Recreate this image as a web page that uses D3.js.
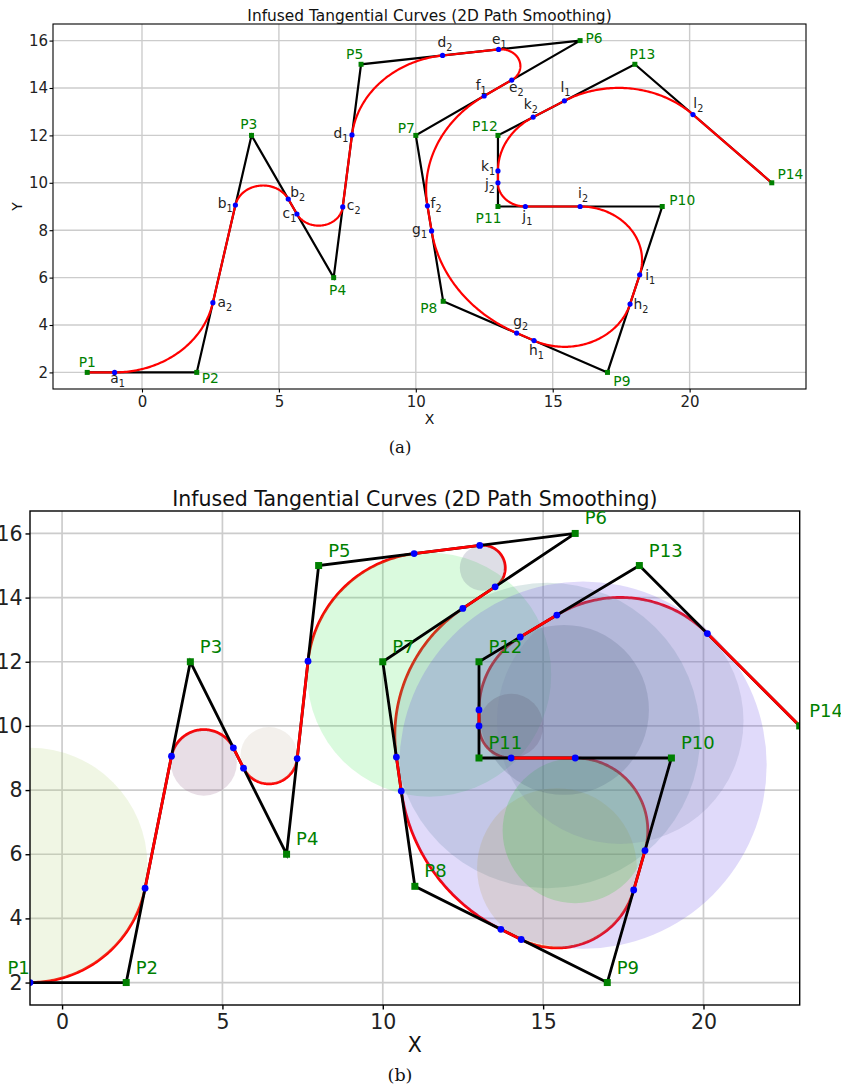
<!DOCTYPE html>
<html>
<head>
<meta charset="utf-8">
<script src="https://cdn.jsdelivr.net/npm/d3@7"></script>
<style>
  body { margin: 0; background: #fff; }
  text { font-family: "DejaVu Sans", sans-serif; }
</style>
</head>
<body>
<div id="chart"></div>
<script>
// control points of the path
var ptNames = ["P1","P2","P3","P4","P5","P6","P7","P8","P9","P10","P11","P12","P13","P14"];
var ptX = [-2, 2, 4, 7, 8, 16, 10, 11, 17, 19, 13, 13, 18, 23];
var ptY = [2, 2, 12, 6, 15, 16, 12, 5, 2, 9, 9, 12, 15, 10];

// tangent distance from each inner corner (P2..P13) to its two tangent points
var tanDist = [3, 3, 3, 3, 3, 3, 3, 3, 3, 1, 1.5, 3];
var tanLetters = ["a","b","c","d","e","f","g","h","i","j","k","l"];

// fill colour of each corner circle in panel (b)
var circleColors = ["#b4d278", "#8c5a82", "#c3b4a0", "#46e65a", "#5a5a82", "#4f8a8a",
                    "#6446e6", "#b49b4b", "#1ec81e", "#5a3c50", "#3a5070", "#7882aa"];

var xTicks = [0, 5, 10, 15, 20];
var yTicks = [2, 4, 6, 8, 10, 12, 14, 16];

// label placement (pixel offsets of label centre from the point)
var labelOffA = [[0,-10.5],[13.5,6],[-2.7,-11],[4,12.5],[-6.4,-10],[14,-2.7],[-9.6,-7.7],
                 [-14.5,6.5],[14.4,8.7],[20,-6.5],[-9.4,12],[-13,-9],[7.6,-10.5],[18.6,-8.5]];
var tanLabelOff = [[[3,9],[12,2.5]],[[-10.3,1],[9.5,-4]],[[-7.5,2],[11,0.7]],[[-11,0.6],[2.5,-10.4]],
                   [[0.7,-7.6],[4.6,10]],[[-3,-8],[8.7,0.5]],[[-12,1],[4,-9.5]],[[2.5,12],[11,2.7]],
                   [[10.5,2.7],[3,-10.7]],[[2,12.5],[-8,4.7]],[[-10,-2],[-2.3,-10.5]],[[1,-11],[5.4,-8.8]]];

// fillet geometry for every inner corner
var corners = [];
for (var i = 1; i < ptX.length - 1; i++) {
  var ux = ptX[i] - ptX[i-1], uy = ptY[i] - ptY[i-1];
  var l = Math.hypot(ux, uy); ux /= l; uy /= l;
  var wx = ptX[i+1] - ptX[i], wy = ptY[i+1] - ptY[i];
  l = Math.hypot(wx, wy); wx /= l; wy /= l;
  var d = tanDist[i-1];
  var theta = Math.acos(-(ux*wx + uy*wy));
  var r = d * Math.tan(theta / 2);
  var s = Math.sign(ux*wy - uy*wx);
  var t1 = [ptX[i] - d*ux, ptY[i] - d*uy];
  var t2 = [ptX[i] + d*wx, ptY[i] + d*wy];
  var c = [t1[0] - s*uy*r, t1[1] + s*ux*r];
  var a0 = Math.atan2(t1[1] - c[1], t1[0] - c[0]);
  var sweep = s * (Math.PI - theta);
  var arc = d3.range(0, 81).map(function(k) {
    var a = a0 + sweep * k / 80;
    return [c[0] + r*Math.cos(a), c[1] + r*Math.sin(a)];
  });
  corners.push({t1: t1, t2: t2, c: c, r: r, arc: arc});
}

// straight pieces of the smoothed path
var straights = [[[ptX[0], ptY[0]], corners[0].t1]];
for (var k = 0; k < corners.length - 1; k++) straights.push([corners[k].t2, corners[k+1].t1]);
straights.push([corners[corners.length-1].t2, [ptX[ptX.length-1], ptY[ptY.length-1]]]);

var svg = d3.select("#chart").append("svg")
  .attr("width", 841)
  .attr("height", 1092);

function drawPanel(cfg) {
  var x = d3.scaleLinear().domain(cfg.xDom).range([cfg.left, cfg.right]);
  var y = d3.scaleLinear().domain(cfg.yDom).range([cfg.bottom, cfg.top]);
  var line = d3.line().x(p => x(p[0])).y(p => y(p[1]));

  var g = svg.append("g");

  // grid
  g.selectAll("line.gx").data(xTicks).enter().append("line")
    .attr("x1", d => x(d)).attr("x2", d => x(d))
    .attr("y1", cfg.top).attr("y2", cfg.bottom)
    .attr("stroke", "#cccccc").attr("stroke-width", cfg.gridW);
  g.selectAll("line.gy").data(yTicks).enter().append("line")
    .attr("y1", d => y(d)).attr("y2", d => y(d))
    .attr("x1", cfg.left).attr("x2", cfg.right)
    .attr("stroke", "#cccccc").attr("stroke-width", cfg.gridW);

  var clipId = "clip" + cfg.id;
  svg.append("clipPath").attr("id", clipId).append("rect")
    .attr("x", cfg.left).attr("y", cfg.top)
    .attr("width", cfg.right - cfg.left).attr("height", cfg.bottom - cfg.top);
  var plot = g.append("g").attr("clip-path", "url(#" + clipId + ")");

  // control polygon
  var poly = ptX.map((v, i) => [v, ptY[i]]);

  if (cfg.circles) {
    plot.selectAll("path.arc").data(corners).enter().append("path")
      .attr("d", c => line(c.arc)).attr("fill", "none")
      .attr("stroke", "#ff0000").attr("stroke-width", cfg.lineW);
    plot.selectAll("ellipse").data(corners).enter().append("ellipse")
      .attr("cx", c => x(c.c[0])).attr("cy", c => y(c.c[1]))
      .attr("rx", c => x(c.c[0] + c.r) - x(c.c[0]))
      .attr("ry", c => y(c.c[1] - c.r) - y(c.c[1]))
      .attr("fill", (c, i) => circleColors[i]).attr("fill-opacity", 0.2);
    plot.append("path").attr("d", line(poly)).attr("fill", "none")
      .attr("stroke", "#000").attr("stroke-width", cfg.lineW);
  } else {
    plot.append("path").attr("d", line(poly)).attr("fill", "none")
      .attr("stroke", "#000").attr("stroke-width", cfg.lineW);
    plot.selectAll("path.arc").data(corners).enter().append("path")
      .attr("d", c => line(c.arc)).attr("fill", "none")
      .attr("stroke", "#ff0000").attr("stroke-width", cfg.lineW);
  }
  plot.selectAll("path.seg").data(straights).enter().append("path")
    .attr("d", s => line(s)).attr("fill", "none")
    .attr("stroke", "#ff0000").attr("stroke-width", cfg.lineW);

  // tangent points
  var tps = [];
  corners.forEach(function(c, i) {
    tps.push({p: c.t1, name: tanLetters[i], sub: "1", off: tanLabelOff[i][0]});
    tps.push({p: c.t2, name: tanLetters[i], sub: "2", off: tanLabelOff[i][1]});
  });
  plot.selectAll("circle.tp").data(tps).enter().append("circle")
    .attr("cx", t => x(t.p[0])).attr("cy", t => y(t.p[1]))
    .attr("r", cfg.dotR).attr("fill", "#0000ff");

  // control points
  plot.selectAll("rect.cp").data(poly).enter().append("rect")
    .attr("x", p => x(p[0]) - cfg.sq/2).attr("y", p => y(p[1]) - cfg.sq/2)
    .attr("width", cfg.sq).attr("height", cfg.sq).attr("fill", "#008000");

  // frame
  g.append("rect").attr("x", cfg.left).attr("y", cfg.top)
    .attr("width", cfg.right - cfg.left).attr("height", cfg.bottom - cfg.top)
    .attr("fill", "none").attr("stroke", "#000").attr("stroke-width", cfg.frameW);

  // axes
  var xa = g.append("g").attr("transform", `translate(0,${cfg.bottom})`)
    .call(d3.axisBottom(x).tickValues(xTicks).tickSize(cfg.tickLen).tickPadding(cfg.xPad));
  var ya = g.append("g").attr("transform", `translate(${cfg.left},0)`)
    .call(d3.axisLeft(y).tickValues(yTicks).tickSize(cfg.tickLen).tickPadding(cfg.yPad));
  [xa, ya].forEach(function(a) {
    a.select(".domain").remove();
    a.selectAll("line").attr("stroke", "#000").attr("stroke-width", cfg.frameW);
    a.selectAll("text").attr("font-size", cfg.tickFs + "px").attr("fill", "#222")
      .style("font-family", "DejaVu Sans");
  });

  // control point labels
  g.selectAll("text.pl").data(poly).enter().append("text")
    .attr("x", (p, i) => x(p[0]) + cfg.pOff(i)[0])
    .attr("y", (p, i) => y(p[1]) + cfg.pOff(i)[1] + 0.36 * cfg.pFs)
    .attr("text-anchor", cfg.pAnchor)
    .attr("font-size", cfg.pFs + "px").attr("fill", "#008000")
    .text((p, i) => ptNames[i]);

  if (cfg.tanLabels) {
    var tl = g.selectAll("text.tl").data(tps).enter().append("text")
      .attr("x", t => x(t.p[0]) + t.off[0])
      .attr("y", t => y(t.p[1]) + t.off[1] + 2)
      .attr("text-anchor", "middle")
      .attr("font-size", cfg.pFs + "px").attr("fill", "#222");
    tl.append("tspan").text(t => t.name);
    tl.append("tspan").attr("dy", 4).attr("font-size", (cfg.pFs * 0.7) + "px").text(t => t.sub);
  }

  // titles
  g.append("text").attr("x", (cfg.left + cfg.right) / 2).attr("y", cfg.titleY)
    .attr("text-anchor", "middle").attr("font-size", cfg.titleFs + "px").attr("fill", "#111")
    .text("Infused Tangential Curves (2D Path Smoothing)");
  g.append("text").attr("x", (cfg.left + cfg.right) / 2).attr("y", cfg.xLabelY)
    .attr("text-anchor", "middle").attr("font-size", cfg.axFs + "px").attr("fill", "#111")
    .text("X");
  if (cfg.yLabelX) {
    g.append("text")
      .attr("transform", `translate(${cfg.yLabelX},${(cfg.top + cfg.bottom) / 2}) rotate(-90)`)
      .attr("text-anchor", "middle").attr("font-size", cfg.axFs + "px").attr("fill", "#111")
      .text("Y");
  }
  g.append("text").attr("x", 400).attr("y", cfg.capY)
    .attr("text-anchor", "middle").attr("font-size", cfg.capFs + "px").attr("fill", "#111")
    .style("font-family", "'DejaVu Serif', serif")
    .text(cfg.caption);
}

// panel (a)
drawPanel({
  id: "a", xDom: [-3.25, 24.25], yDom: [1.3, 16.7],
  left: 53, right: 806, top: 24, bottom: 389,
  circles: false, tanLabels: true,
  lineW: 2.2, gridW: 1.4, frameW: 1.1, dotR: 2.6, sq: 5,
  tickLen: 3.5, xPad: 4, yPad: 1.5, tickFs: 15,
  pFs: 13.8, pAnchor: "middle", pOff: i => labelOffA[i],
  titleFs: 15.4, titleY: 20.5, axFs: 14, xLabelY: 423.5, yLabelX: 22,
  caption: "(a)", capY: 453, capFs: 16.5
});

// panel (b)
drawPanel({
  id: "b", xDom: [-1, 23], yDom: [1.3, 16.7],
  left: 30, right: 799.7, top: 511, bottom: 1005,
  circles: true, tanLabels: false,
  lineW: 2.8, gridW: 1.7, frameW: 1.4, dotR: 3.4, sq: 7,
  tickLen: 4.5, xPad: 5, yPad: 3, tickFs: 20.5,
  pFs: 18, pAnchor: "start", pOff: i => [9.5, -15.5],
  titleFs: 20.5, titleY: 506, axFs: 20.5, xLabelY: 1051.5, yLabelX: null,
  caption: "(b)", capY: 1081, capFs: 17.5
});
</script>
</body>
</html>
